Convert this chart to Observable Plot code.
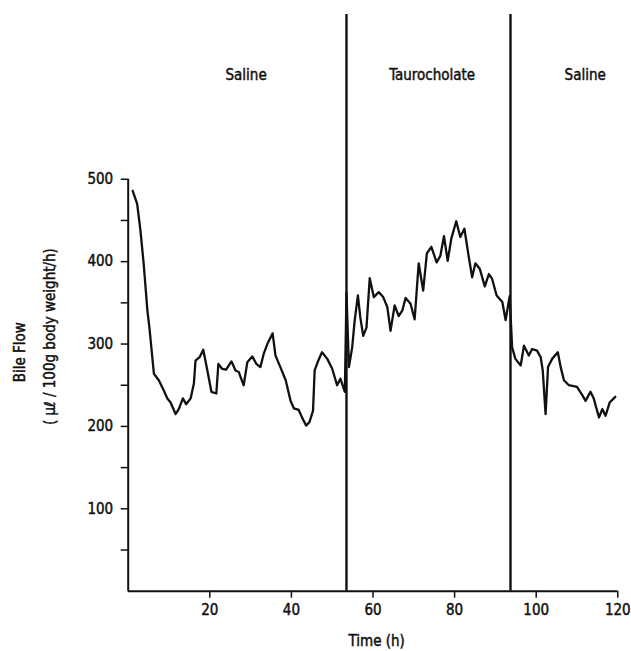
<!DOCTYPE html>
<html><head><meta charset="utf-8">
<script src="https://cdn.jsdelivr.net/npm/d3@7"></script>
<script src="https://cdn.jsdelivr.net/npm/@observablehq/plot@0.6"></script>
<style>body{margin:0;background:#fff} svg{display:block} svg text{stroke:#111;stroke-width:0.45px;paint-order:fill}</style>
</head><body><div id="chart"></div>
<script>
const timeH = [1.1,2.2,3.0,3.8,4.7,5.2,6.3,7.5,8.7,9.6,10.4,11.6,12.4,13.4,14.2,15.3,16.1,16.5,17.5,18.4,19.4,20.4,21.6,22.1,23.0,24.0,25.3,26.3,27.1,28.3,29.2,30.4,31.4,32.4,33.2,34.1,35.4,36.1,37.3,38.6,39.8,40.6,41.8,42.6,43.6,44.4,45.3,45.7,46.6,47.5,48.8,50.0,51.2,52.0,53.1,53.5,54.1,54.9,55.5,56.3,56.9,57.6,58.4,59.2,60.2,61.4,62.5,63.5,64.3,65.3,66.3,67.2,68.0,69.2,70.2,71.2,72.3,73.2,74.3,75.6,76.5,77.4,78.3,79.2,80.4,81.4,82.4,83.5,84.3,85.1,86.2,87.4,88.4,89.2,90.3,91.7,92.5,93.5,94.1,94.9,96.2,97.0,98.2,99.0,100.2,101.1,101.6,102.3,102.9,103.9,105.3,106.0,106.8,108.0,110.0,111.3,112.1,113.3,114.1,114.7,115.4,116.2,117.0,118.0,119.0,119.4];
const bileFlow = [486,470,438,397,341,320,264,256,244,234,229,215,221,234,227,234,252,280,284,293,268,242,240,276,270,269,279,268,266,250,278,285,276,272,288,300,313,286,272,256,231,222,220,211,201,205,219,268,280,290,282,270,250,258,242,362,272,296,328,359,332,310,320,380,357,363,357,345,316,347,334,341,356,349,330,398,365,410,418,399,407,431,401,428,449,430,440,405,381,398,391,370,385,379,359,351,329,358,296,282,274,298,286,294,292,284,268,215,272,282,290,272,256,250,248,238,231,242,234,223,211,221,213,229,234,236];
const phaseBoundaries = [53.5, 93.7];
const phaseLabels = ["Saline", "Taurocholate", "Saline"];
const phaseCenters = [28.9, 74.5, 112];
const xTicks = [20, 40, 60, 80, 100, 120];
const yTicks = [100, 200, 300, 400, 500];
const yMinorTicks = [50, 150, 250, 350, 450];

const series = timeH.map((t, i) => ({t, v: bileFlow[i]}));
const phases = phaseLabels.map((label, i) => ({label, x: phaseCenters[i]}));
const font = "'DejaVu Sans Condensed', 'Liberation Sans', sans-serif";

const chart = Plot.plot({
  width: 631,
  height: 651,
  marginLeft: 127.7,
  marginRight: 13.7,
  marginTop: 14,
  marginBottom: 60.3,
  style: {fontFamily: font, fontSize: "15px", color: "#111", background: "#fff"},
  x: {domain: [0, 120]},
  y: {domain: [0, 700]},
  marks: [
    Plot.axisX({ticks: xTicks, tickSize: 7, tickPadding: 6, label: null, fontSize: 15, strokeWidth: 1.5}),
    Plot.axisY({ticks: yTicks, tickSize: 7, tickPadding: 8, label: null, fontSize: 15, strokeWidth: 1.5}),
    Plot.axisY({ticks: yMinorTicks, tickSize: 7, tickFormat: () => "", label: null, strokeWidth: 1.5}),
    Plot.ruleX([0], {y1: 0, y2: 500, strokeWidth: 2, stroke: "#111"}),
    Plot.ruleY([0], {x1: 0, x2: 120, strokeWidth: 2, stroke: "#111"}),
    Plot.ruleX(phaseBoundaries, {y1: 0, y2: 700, strokeWidth: 2.4, stroke: "#111"}),
    Plot.line(series, {x: "t", y: "v", stroke: "#111", strokeWidth: 2.3, curve: "linear", strokeLinejoin: "round"}),
    Plot.text(phases, {x: "x", y: 626, text: "label", fontSize: 15, fill: "#111"}),
    Plot.text(["Time (h)"], {x: 60.9, y: -61, text: d => d, fontSize: 15, fill: "#111"}),
    Plot.text(["Bile Flow"], {x: -26.4, y: 290, text: d => d, rotate: -90, fontSize: 15, fill: "#111"}),
    Plot.text(["( μℓ / 100g body weight/h)"], {x: -19, y: 309, text: d => d, rotate: -90, fontSize: 15, fill: "#111"})
  ]
});
document.getElementById("chart").append(chart);
</script>
</body></html>
